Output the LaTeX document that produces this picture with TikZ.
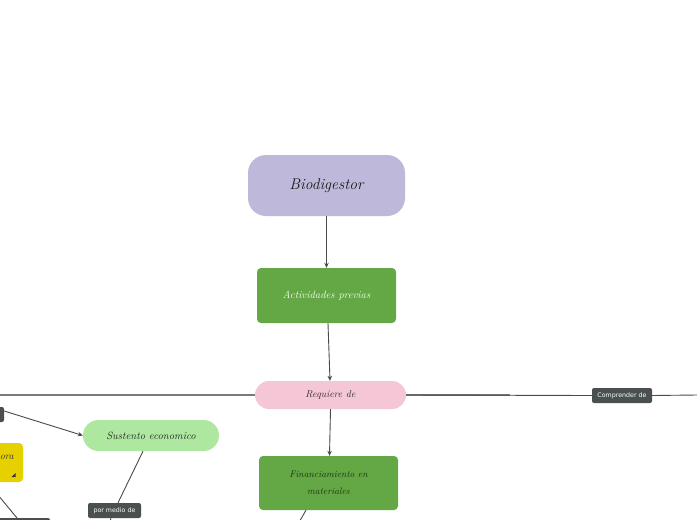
\documentclass[tikz,border=0pt]{standalone}
\usepackage{fontspec}
\newfontfamily\lblfont{DejaVu Sans}
\usetikzlibrary{arrows.meta}
\definecolor{lav}{HTML}{BEB8DA}
\definecolor{grn}{HTML}{63A844}
\definecolor{pnk}{HTML}{F5C6D6}
\definecolor{lgrn}{HTML}{AEE8A0}
\definecolor{ylw}{HTML}{E6D000}
\definecolor{lbl}{HTML}{4A4F4F}
\definecolor{conn}{HTML}{4A4A4A}
\definecolor{thkgray}{HTML}{7A7A7A}
\tikzset{
  box/.style={draw=none, inner sep=0pt, align=center, font=\itshape},
  tag/.style={fill=lbl, text=white, rounded corners=2pt, inner sep=0pt, font=\lblfont\fontsize{6.3}{7}\selectfont},
  conline/.style={draw=conn, line width=0.9pt},
  arr/.style={conline, -{Stealth[length=5pt,width=4.5pt]}},
  heavy/.style={draw=thkgray, line width=1.6pt},
}
\begin{document}
\begin{tikzpicture}[x=1pt,y=-1pt]
\useasboundingbox (0,0) rectangle (697,520);
\clip (0,0) rectangle (697,520);
\fill[white] (0,0) rectangle (697,520);

\node[box, fill=lav, rounded corners=18pt, minimum width=157pt, minimum height=61pt, text=black!90, font=\itshape\fontsize{15.5}{17}\selectfont] (bio) at (326.5,185.5) {Biodigestor};
\node[box, fill=grn, rounded corners=4pt, minimum width=139pt, minimum height=55pt, text=white!92!grn, font=\itshape\fontsize{10.5}{12}\selectfont] (act) at (326.5,295.5) {Actividades previas};
\node[box, fill=pnk, rounded corners=14pt, minimum width=151pt, minimum height=28pt, text=black!80, font=\itshape\fontsize{10}{11}\selectfont] (req) at (330.5,395) {Requiere de};
\node[box, fill=grn, rounded corners=4pt, minimum width=139pt, minimum height=54pt, text=black!70!grn, font=\itshape\fontsize{9.5}{17}\selectfont] (fin) at (328.5,483) {Financiamiento en\\materiales};
\node[box, fill=lgrn, rounded corners=15.5pt, minimum width=136pt, minimum height=31pt, text=black!85, font=\itshape\fontsize{10.5}{11}\selectfont] (sus) at (151,435.5) {Sustento economico};
\node[tag, minimum width=60pt, minimum height=15pt] (comp) at (622,395.5) {Comprender de};
\node[tag, minimum width=53pt, minimum height=15pt] (pmd) at (114.5,510.5) {por medio de};
\node[tag, minimum width=34pt, minimum height=15pt] (lt) at (-13,414.5) {};
\node[box, fill=ylw, rounded corners=4pt, minimum width=63pt, minimum height=39pt] (ylw) at (-8.5,462.5) {};
\node[font=\itshape\fontsize{10}{11}\selectfont, text=black!80, anchor=east, inner sep=0pt] (ytxt) at (14,457) {ora};
\fill[black!80] (15.5,473) -- (15.5,477) -- (11.5,477) -- cycle;
\node[tag, minimum width=80pt, minimum height=20pt] (bl) at (10,528) {};

\coordinate (leftend) at (0,395);
\coordinate (rightend) at (697,395);
\coordinate (mid) at (510,395);
\coordinate (finout) at (298,524);
\coordinate (pmdout) at (109,524);
\coordinate (ylwout) at (-2,495);

\draw[arr] (bio.south) -- (act.north);
\draw[arr] ([xshift=1.5pt]act.south) -- ([xshift=-0.5pt]req.north);
\draw[arr] (req.south) -- ([xshift=1pt]fin.north);
\draw[heavy] (req.west) -- (leftend);
\draw[heavy] (req.east) -- (mid);
\draw[conline] (req.east) -- (comp.west);
\draw[conline] (comp.east) -- (rightend);
\draw[conline] ([xshift=-22.5pt]fin.south) -- (finout);
\draw[arr] ([yshift=3.5pt]lt.east) -- (sus.west);
\draw[conline] ([xshift=-8pt]sus.south) -- ([xshift=3.5pt]pmd.north);
\draw[conline] ([xshift=-3.5pt]pmd.south) -- (pmdout);
\draw[conline] (ylwout) -- (17,518);
\end{tikzpicture}
\end{document}
